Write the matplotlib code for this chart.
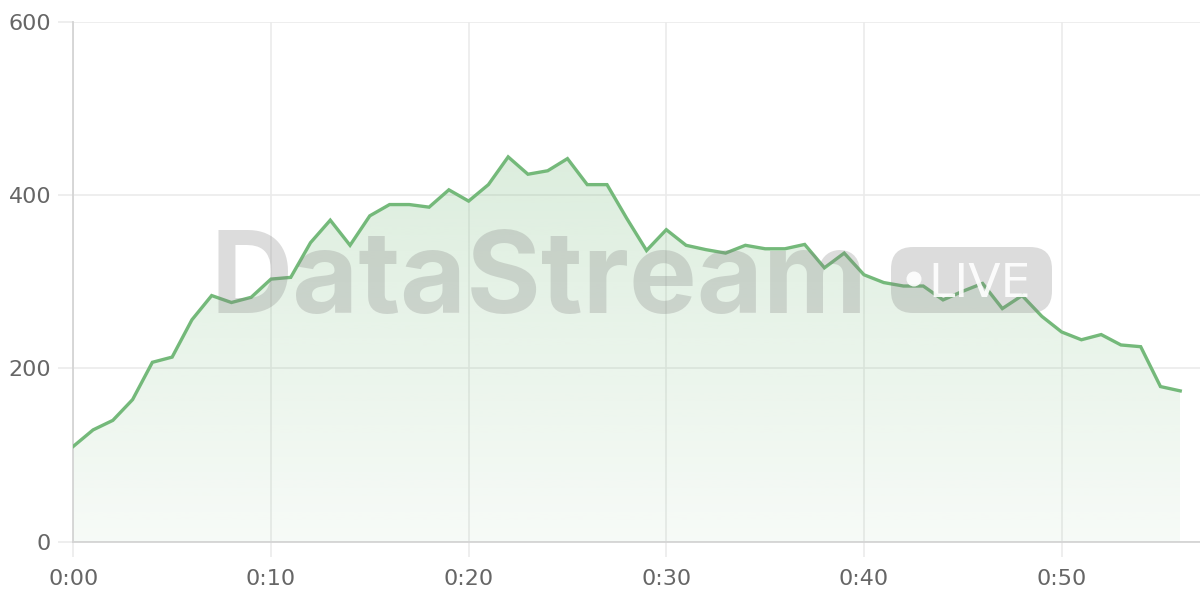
import matplotlib
matplotlib.use("Agg")
import matplotlib.pyplot as plt
import numpy as np
from matplotlib.patches import FancyBboxPatch, Circle

# ---- data ----
minutes = list(range(57))
values = [110, 129, 140, 164, 207, 213, 256, 284, 276, 282,
          303, 305, 345, 371, 342, 376, 389, 389, 386, 406,
          393, 412, 444, 424, 428, 442, 412, 412, 373, 336,
          360, 342, 337, 333, 342, 338, 338, 343, 316, 333,
          308, 299, 295, 295, 279, 289, 298, 269, 284, 260,
          242, 233, 239, 227, 225, 179, 174]
x_ticks = [0, 10, 20, 30, 40, 50]
x_tick_labels = ["0:00", "0:10", "0:20", "0:30", "0:40", "0:50"]
y_ticks = [0, 200, 400, 600]
y_tick_labels = ["0", "200", "400", "600"]

LINE = "#74b97a"
GRID = "#ebebeb"
SPINE = "#d4d4d4"
LABEL = "#666666"

fig = plt.figure(figsize=(12, 6), dpi=100)
ax = fig.add_axes([73.3 / 1200, (600 - 541.7) / 600, 1 - 73.3 / 1200, (541.7 - 21.7) / 600])
ax.set_xlim(0, 57)
ax.set_ylim(0, 600)

# gradient fill
poly = ax.fill_between(minutes, values, 0, color="none", lw=0)
top = max(values)
n = 256
rgb = np.array([116, 185, 122]) / 255.0
grad = np.zeros((n, 1, 4))
grad[:, 0, :3] = rgb
grad[:, 0, 3] = np.linspace(0.25, 0.06, n)
img = ax.imshow(grad, extent=[minutes[0], minutes[-1], 0, top], aspect="auto",
                origin="upper", zorder=1, interpolation="bilinear")
path = poly.get_paths()[0]
img.set_clip_path(path, transform=ax.transData)

ax.plot(minutes, values, color=LINE, lw=2.4, zorder=4, solid_joinstyle="miter")

# grid & axes
ax.set_xticks(x_ticks)
ax.set_xticklabels(x_tick_labels)
ax.set_yticks(y_ticks)
ax.set_yticklabels(y_tick_labels)
ax.grid(True, color=GRID, lw=1.2, zorder=0)
ax.set_axisbelow(True)
for s in ["top", "right"]:
    ax.spines[s].set_visible(False)
ax.spines["left"].set_color(SPINE)
ax.spines["bottom"].set_color(SPINE)
ax.spines["left"].set_linewidth(1.3)
ax.spines["bottom"].set_linewidth(1.3)
ax.tick_params(axis="both", colors=GRID, length=11, width=1.2, labelcolor=LABEL,
               labelsize=16, pad=5)
ax.tick_params(axis="x", pad=9)
for lab in ax.get_xticklabels() + ax.get_yticklabels():
    lab.set_family("DejaVu Sans")

# watermark
tr = fig.dpi_scale_trans
fig.text(210 / 100, (600 - 313) / 100, "DataStream", transform=tr,
         fontsize=82, fontweight="bold", family=["Inter", "DejaVu Sans"],
         color="#808080", alpha=0.27, ha="left", va="baseline", zorder=3)
box = FancyBboxPatch((891 / 100, (600 - 313) / 100), (1052 - 891) / 100, 66 / 100,
                     boxstyle="round,pad=0,rounding_size=0.22", transform=tr,
                     facecolor="#808080", alpha=0.27, edgecolor="none", zorder=3)
fig.patches.append(box)
dot = Circle((914 / 100, (600 - 279) / 100), 7.5 / 100, transform=tr,
             facecolor="white", alpha=0.9, edgecolor="none", zorder=3.1)
fig.patches.append(dot)
fig.text(928 / 100, (600 - 297) / 100, "LIVE", transform=tr, fontsize=34,
         family=["DejaVu Sans"], color="white", alpha=0.9,
         ha="left", va="baseline", zorder=3.1)

fig.savefig("out.png", dpi=100)
